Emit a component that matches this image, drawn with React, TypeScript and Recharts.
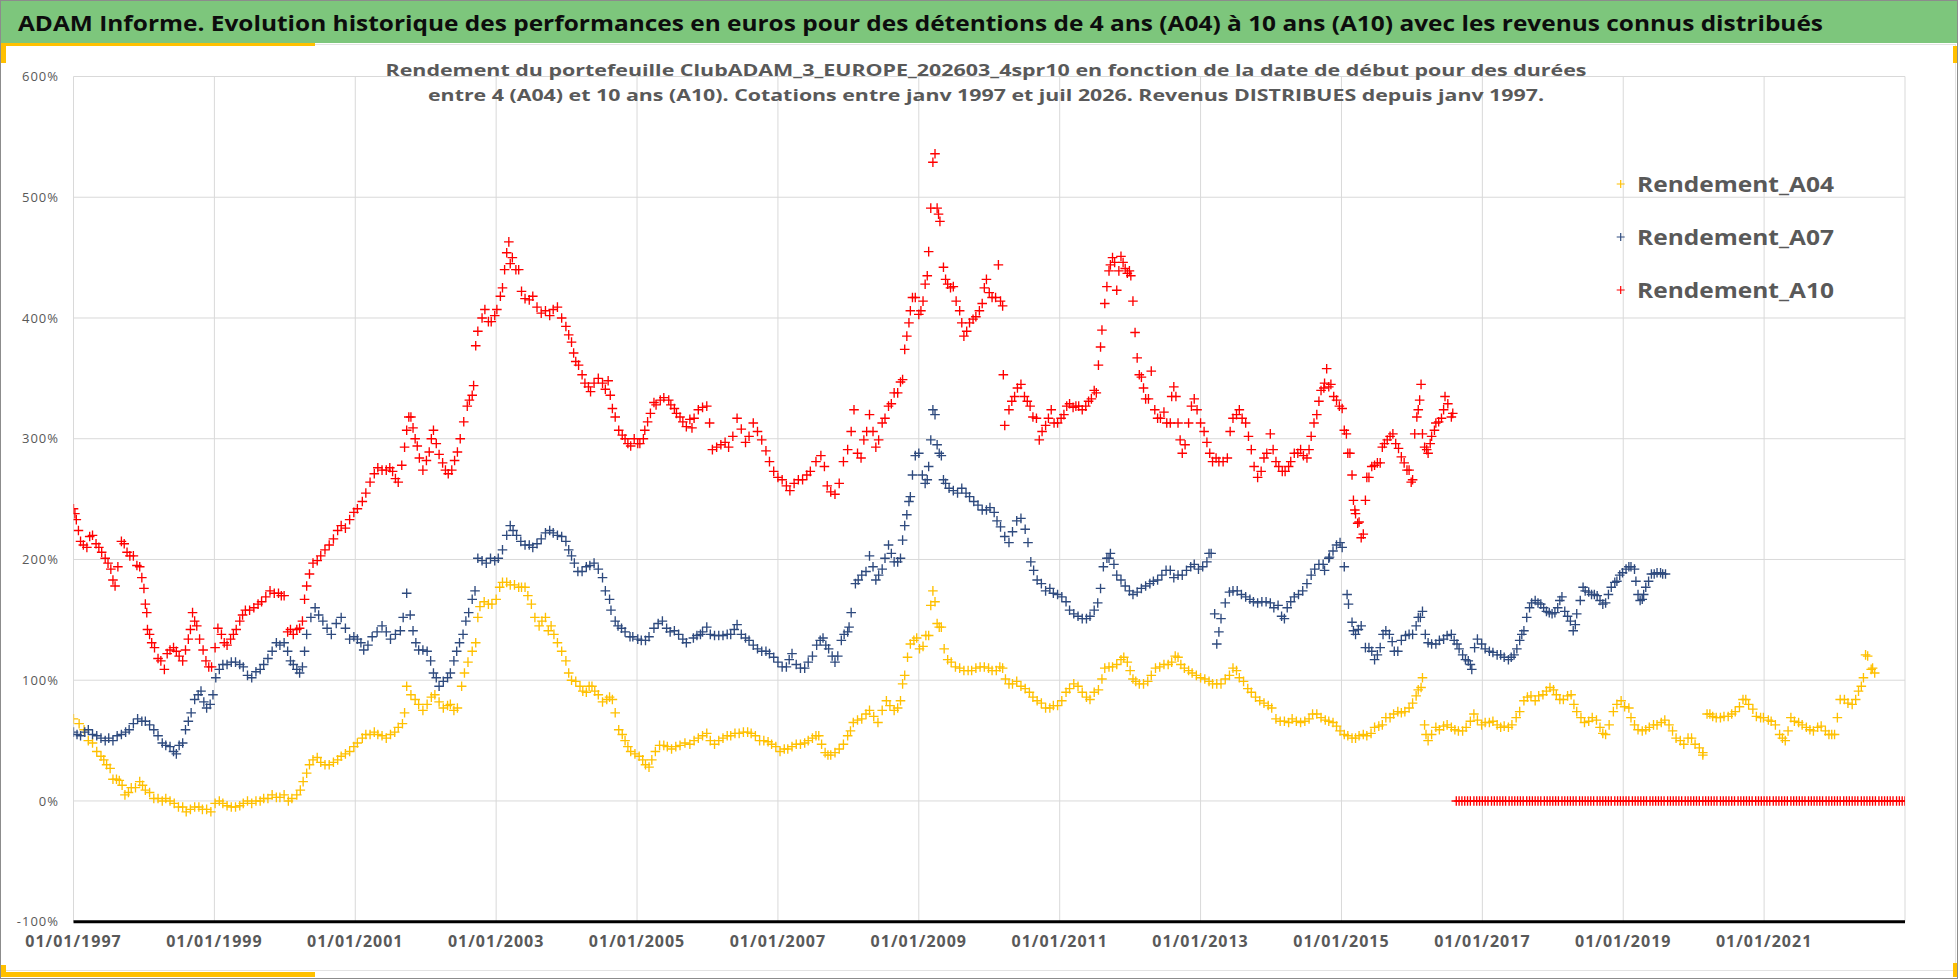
import React from 'react';
import { ScatterChart, Scatter, XAxis, YAxis, CartesianGrid } from 'recharts';

// ---- data: [decimal year of start date, rendement %] ----
const A04: [number, number][] = [
  [1997.0,68],[1997.15,59],[1997.27,48],[1997.39,37],[1997.47,30],[1997.56,18],[1997.65,17],[1997.73,5],[1997.82,11],[1997.94,16],
  [1998.02,9],[1998.14,2],[1998.26,0],[1998.37,0],[1998.49,-5],[1998.6,-9],[1998.72,-5],[1998.83,-7],[1998.95,-9],
  [1999.07,0],[1999.18,-4],[1999.3,-5],[1999.41,-2],[1999.53,-2],[1999.65,0],[1999.76,2],[1999.88,3],[1999.99,5],
  [2000.1,2],[2000.22,9],[2000.31,23],[2000.4,34],[2000.51,32],[2000.63,30],[2000.75,34],[2000.86,39],[2000.98,45],
  [2001.1,52],[2001.21,55],[2001.32,55],[2001.44,52],[2001.56,57],[2001.67,64],[2001.73,95],[2001.85,84],[2001.96,75],
  [2002.08,86],[2002.19,82],[2002.31,79],[2002.4,75],[2002.51,95],[2002.6,115],[2002.71,131],[2002.77,161],[2002.89,163],
  [2003.0,167],[2003.09,181],[2003.2,179],[2003.32,177],[2003.41,177],[2003.5,163],[2003.61,145],[2003.7,152],[2003.78,145],[2003.87,131],[2003.99,116],
  [2004.07,100],[2004.19,95],[2004.28,90],[2004.36,95],[2004.45,88],[2004.57,84],[2004.65,84],[2004.74,59],[2004.83,50],[2004.91,41],
  [2005.03,37],[2005.12,30],[2005.17,28],[2005.26,41],[2005.38,46],[2005.49,43],[2005.61,46],[2005.75,47],[2005.87,52],[2005.99,56],
  [2006.1,47],[2006.22,52],[2006.33,54],[2006.45,56],[2006.57,57],[2006.68,54],[2006.8,50],[2006.91,47],
  [2007.03,41],[2007.14,43],[2007.26,47],[2007.38,48],[2007.49,52],[2007.58,54],[2007.67,40],[2007.75,38],[2007.87,43],[2007.99,54],
  [2008.07,65],[2008.19,68],[2008.3,75],[2008.42,65],[2008.54,83],[2008.65,75],[2008.74,83],[2008.8,104],[2008.88,130],[2008.97,135],
  [2009.06,128],[2009.14,137],[2009.2,174],[2009.26,147],[2009.32,144],[2009.41,117],[2009.52,111],[2009.64,108],[2009.75,108],[2009.87,111],[2009.99,110],
  [2010.1,108],[2010.19,110],[2010.28,97],[2010.39,99],[2010.51,93],[2010.62,86],[2010.74,81],[2010.86,77],[2010.97,79],
  [2011.09,90],[2011.2,97],[2011.32,90],[2011.43,84],[2011.55,92],[2011.64,110],[2011.75,111],[2011.87,117],[2011.96,115],
  [2012.04,101],[2012.13,97],[2012.25,99],[2012.36,110],[2012.48,113],[2012.59,115],[2012.68,119],[2012.77,110],[2012.88,106],
  [2013.0,102],[2013.12,99],[2013.23,97],[2013.35,101],[2013.46,110],[2013.55,102],[2013.67,93],[2013.78,86],[2013.9,81],
  [2014.01,77],[2014.13,66],[2014.25,65],[2014.36,66],[2014.48,66],[2014.59,72],[2014.71,69],[2014.82,66],[2014.93,62],
  [2015.04,55],[2015.15,52],[2015.25,54],[2015.36,54],[2015.47,61],[2015.58,63],[2015.69,69],[2015.8,74],[2015.9,74],
  [2016.01,81],[2016.09,92],[2016.15,102],[2016.18,63],[2016.23,50],[2016.34,61],[2016.45,62],[2016.56,61],[2016.66,58],[2016.77,61],[2016.88,72],[2016.99,63],
  [2017.1,65],[2017.21,63],[2017.31,62],[2017.42,63],[2017.53,74],[2017.64,86],[2017.75,83],[2017.86,88],[2017.96,94],
  [2018.05,88],[2018.15,84],[2018.26,88],[2018.34,74],[2018.45,65],[2018.56,69],[2018.67,61],[2018.75,55],[2018.86,74],[2018.97,83],
  [2019.08,77],[2019.16,63],[2019.27,58],[2019.37,61],[2019.48,63],[2019.59,67],[2019.7,58],[2019.81,50],[2019.92,52],
  [2020.02,47],[2020.13,40],[2020.19,72],[2020.27,70],[2020.38,69],[2020.49,70],[2020.59,74],[2020.7,84],[2020.78,80],[2020.89,70],[2020.99,69],
  [2021.1,66],[2021.22,55],[2021.3,50],[2021.38,69],[2021.49,65],[2021.6,61],[2021.7,58],[2021.81,62],[2021.92,55],
  [2022.0,55],[2022.08,84],[2022.19,81],[2022.3,84],[2022.38,95],[2022.44,121],[2022.52,109],[2022.57,106],
];
const A04_MORE: [number, number][] = [
  [1997.08,64],[1997.21,50],[1997.33,41],[1997.43,34],[1997.52,27],[1997.61,18],[1997.69,13],[1997.78,7],[1997.88,11],[1997.98,13],
  [1998.08,7],[1998.2,2],[1998.31,2],[1998.43,-2],[1998.55,-5],[1998.66,-7],[1998.78,-5],[1998.89,-7],[1999.01,-2],[1999.12,-2],
  [1999.24,-5],[1999.36,-4],[1999.47,0],[1999.59,0],[1999.7,2],[1999.82,5],[1999.93,3],[2000.05,0],[2000.17,5],[2000.26,16],
  [2000.35,30],[2000.46,36],[2000.57,30],[2000.69,32],[2000.8,37],[2000.92,41],[2001.03,48],[2001.15,55],[2001.27,57],[2001.38,54],
  [2001.5,55],[2001.61,61],[2001.7,73],[2001.79,88],[2001.9,80],[2002.02,80],[2002.13,88],[2002.25,77],[2002.35,80],[2002.45,77],
  [2002.55,106],[2002.66,124],[2002.74,152],[2002.83,165],[2002.94,163],[2003.05,177],[2003.15,181],[2003.26,179],[2003.36,177],[2003.45,170],
  [2003.55,152],[2003.65,149],[2003.74,141],[2003.82,138],[2003.93,124],[2004.03,106],[2004.13,99],[2004.23,91],[2004.32,95],[2004.4,91],
  [2004.51,82],[2004.61,86],[2004.69,73],[2004.79,55],[2004.87,45],[2004.97,39],[2005.08,34],[2005.21,34],[2005.32,46],[2005.43,45],
  [2005.55,45],[2005.68,48],[2005.81,50],[2005.93,54],[2006.04,50],[2006.16,50],[2006.28,54],[2006.39,56],[2006.51,57],[2006.62,56],
  [2006.74,50],[2006.86,49],[2006.97,45],[2007.09,43],[2007.2,45],[2007.32,47],[2007.43,50],[2007.54,54],[2007.62,47],[2007.71,38],
  [2007.81,40],[2007.93,47],[2008.03,58],[2008.13,67],[2008.25,72],[2008.36,70],[2008.48,75],[2008.59,79],[2008.7,77],[2008.77,97],
  [2008.84,119],[2008.93,133],[2009.01,126],[2009.1,137],[2009.17,162],[2009.23,165],[2009.29,144],[2009.36,126],[2009.46,115],[2009.58,110],
  [2009.7,108],[2009.81,110],[2009.93,111],[2010.04,108],[2010.15,111],[2010.23,101],[2010.33,97],[2010.45,95],[2010.57,90],[2010.68,83],
  [2010.8,77],[2010.91,79],[2011.03,83],[2011.14,93],[2011.26,95],[2011.38,86],[2011.49,90],[2011.6,101],[2011.7,111],[2011.81,113],
  [2011.91,119],[2012.0,108],[2012.08,99],[2012.19,97],[2012.3,104],[2012.42,111],[2012.54,113],[2012.64,120],[2012.72,113],[2012.83,108],
  [2012.94,104],[2013.06,101],[2013.17,97],[2013.29,97],[2013.41,104],[2013.51,108],[2013.61,99],[2013.72,90],[2013.84,83],[2013.96,79],
  [2014.07,68],[2014.19,66],[2014.3,68],[2014.42,65],[2014.54,68],[2014.65,72],[2014.77,67],[2014.88,65],[2014.98,58],[2015.09,54],
  [2015.2,52],[2015.31,55],[2015.42,56],[2015.53,62],[2015.63,69],[2015.74,72],[2015.85,73],[2015.96,77],[2016.06,87],[2016.13,94],
  [2016.2,55],[2016.28,55],[2016.39,59],[2016.5,63],[2016.61,59],[2016.72,58],[2016.83,66],[2016.93,67],[2017.04,65],[2017.15,66],
  [2017.26,61],[2017.37,61],[2017.48,69],[2017.59,83],[2017.69,87],[2017.8,87],[2017.91,91],[2018.01,92],[2018.1,84],[2018.21,87],
  [2018.3,80],[2018.4,69],[2018.51,66],[2018.62,67],[2018.71,56],[2018.8,63],[2018.91,80],[2019.02,78],[2019.11,69],[2019.21,59],
  [2019.32,59],[2019.43,63],[2019.54,65],[2019.65,63],[2019.75,52],[2019.86,47],[2019.97,52],[2020.08,44],[2020.13,38],[2020.23,72],
  [2020.32,69],[2020.43,70],[2020.54,72],[2020.65,78],[2020.74,84],[2020.84,76],[2020.95,69],[2021.06,67],[2021.16,63],[2021.26,52],
  [2021.34,58],[2021.43,66],[2021.54,63],[2021.65,59],[2021.76,61],[2021.87,58],[2021.96,55],[2022.04,69],[2022.14,84],[2022.25,80],
  [2022.34,91],[2022.41,102],[2022.47,120],[2022.54,110],
];

const A07: [number, number][] = [
  [1997.0,57],[1997.1,54],[1997.21,59],[1997.33,54],[1997.45,50],[1997.56,50],[1997.68,55],[1997.79,59],[1997.91,68],
  [1998.02,66],[1998.14,59],[1998.26,48],[1998.37,45],[1998.46,39],[1998.55,48],[1998.63,66],[1998.72,84],[1998.81,91],[1998.89,77],[1998.98,88],
  [1999.07,109],[1999.18,113],[1999.3,115],[1999.41,111],[1999.53,102],[1999.65,109],[1999.76,118],[1999.88,131],[1999.99,131],
  [2000.08,116],[2000.17,109],[2000.25,111],[2000.31,138],[2000.43,160],[2000.54,149],[2000.66,138],[2000.8,152],[2000.92,134],
  [2001.03,134],[2001.12,125],[2001.24,136],[2001.38,145],[2001.5,134],[2001.64,141],[2001.73,172],[2001.82,141],[2001.9,125],
  [2002.02,124],[2002.11,106],[2002.19,95],[2002.31,102],[2002.4,116],[2002.48,131],[2002.57,149],[2002.66,167],[2002.74,201],[2002.86,197],[2002.98,199],
  [2003.09,208],[2003.2,228],[2003.29,220],[2003.41,212],[2003.52,210],[2003.64,217],[2003.76,224],[2003.87,220],[2003.99,215],
  [2004.07,203],[2004.16,190],[2004.28,194],[2004.39,197],[2004.51,185],[2004.61,167],[2004.69,149],[2004.78,143],[2004.9,136],
  [2005.01,134],[2005.12,133],[2005.24,143],[2005.36,149],[2005.47,140],[2005.59,138],[2005.7,131],[2005.8,135],[2005.9,138],[2005.99,144],
  [2006.1,137],[2006.22,137],[2006.33,138],[2006.42,146],[2006.54,135],[2006.65,129],[2006.77,124],[2006.88,122],
  [2007.0,115],[2007.12,111],[2007.2,122],[2007.32,110],[2007.43,115],[2007.55,129],[2007.64,135],[2007.72,126],[2007.81,115],[2007.9,133],[2007.99,140],
  [2008.04,156],[2008.1,180],[2008.19,187],[2008.3,203],[2008.39,183],[2008.48,192],[2008.57,212],[2008.65,198],[2008.74,201],[2008.8,228],[2008.86,248],[2008.91,270],
  [2009.0,288],[2009.09,263],[2009.14,277],[2009.2,324],[2009.26,295],[2009.32,286],[2009.38,263],[2009.49,257],[2009.61,259],[2009.72,252],[2009.84,245],[2009.96,241],
  [2010.07,239],[2010.16,227],[2010.28,214],[2010.39,232],[2010.51,225],[2010.59,198],[2010.68,183],[2010.8,174],[2010.91,172],
  [2011.03,169],[2011.14,158],[2011.26,153],[2011.38,151],[2011.49,158],[2011.58,176],[2011.67,201],[2011.72,205],[2011.81,187],[2011.93,178],
  [2012.04,171],[2012.16,176],[2012.28,180],[2012.39,183],[2012.51,191],[2012.62,185],[2012.74,187],[2012.86,194],[2012.97,192],
  [2013.09,198],[2013.15,205],[2013.2,155],[2013.23,130],[2013.29,151],[2013.41,173],[2013.52,174],[2013.64,169],[2013.75,165],[2013.87,165],[2013.99,164],
  [2014.1,162],[2014.19,151],[2014.28,165],[2014.39,171],[2014.51,180],[2014.62,192],[2014.74,196],[2014.82,201],[2014.88,207],[2014.98,214],
  [2015.04,194],[2015.08,171],[2015.1,163],[2015.15,148],[2015.2,138],[2015.28,145],[2015.39,127],[2015.47,117],[2015.55,127],[2015.63,141],[2015.72,132],[2015.8,124],[2015.91,137],
  [2016.01,138],[2016.09,152],[2016.15,157],[2016.23,131],[2016.34,130],[2016.45,134],[2016.56,138],[2016.64,130],[2016.72,121],[2016.8,116],[2016.85,109],[2016.93,134],
  [2017.04,126],[2017.15,123],[2017.26,121],[2017.37,117],[2017.45,121],[2017.53,133],[2017.59,141],[2017.67,160],[2017.75,166],[2017.83,163],[2017.91,157],[2017.99,155],
  [2018.07,160],[2018.13,169],[2018.21,153],[2018.29,141],[2018.34,155],[2018.43,177],[2018.51,173],[2018.59,171],[2018.67,166],[2018.75,164],[2018.83,177],[2018.91,182],[2018.99,189],
  [2019.08,194],[2019.16,192],[2019.21,171],[2019.27,167],[2019.32,177],[2019.4,188],[2019.48,189],[2019.56,188],
];
const A07_MORE: [number, number][] = [
  [1997.05,55],[1997.16,57],[1997.27,55],[1997.39,52],[1997.5,52],[1997.62,54],[1997.74,57],[1997.85,64],[1997.97,66],[1998.08,63],
  [1998.2,54],[1998.31,46],[1998.42,41],[1998.5,46],[1998.59,59],[1998.67,73],[1998.77,88],[1998.85,82],[1998.94,80],[1999.02,102],
  [1999.12,113],[1999.24,115],[1999.36,113],[1999.47,104],[1999.59,107],[1999.7,113],[1999.82,124],[1999.93,129],[2000.04,124],[2000.12,113],
  [2000.21,106],[2000.28,124],[2000.37,152],[2000.48,154],[2000.6,143],[2000.73,147],[2000.86,143],[2000.98,136],[2001.08,131],[2001.18,129],
  [2001.31,140],[2001.44,140],[2001.57,138],[2001.68,152],[2001.78,154],[2001.86,131],[2001.96,125],[2002.07,116],[2002.15,102],[2002.25,99],
  [2002.35,106],[2002.44,124],[2002.53,138],[2002.61,156],[2002.7,174],[2002.8,199],[2002.92,201],[2003.03,201],[2003.15,220],[2003.24,224],
  [2003.35,215],[2003.47,212],[2003.58,213],[2003.7,222],[2003.81,222],[2003.93,219],[2004.03,208],[2004.11,197],[2004.22,190],[2004.33,195],
  [2004.45,192],[2004.55,174],[2004.63,158],[2004.73,145],[2004.83,140],[2004.94,136],[2005.06,133],[2005.17,136],[2005.3,147],[2005.42,143],
  [2005.53,141],[2005.65,134],[2005.85,137],[2005.93,140],[2006.04,138],[2006.16,137],[2006.28,138],[2006.38,142],[2006.48,138],[2006.59,133],
  [2006.71,126],[2006.83,124],[2006.94,119],[2007.06,111],[2007.16,117],[2007.26,113],[2007.38,110],[2007.49,120],[2007.6,133],[2007.68,129],
  [2007.77,120],[2007.85,120],[2007.94,138],[2008.01,144],[2008.14,183],[2008.25,190],[2008.35,194],[2008.43,187],[2008.52,201],[2008.61,205],
  [2008.7,198],[2008.77,216],[2008.83,237],[2008.88,252],[2008.95,286],[2009.05,270],[2009.12,266],[2009.17,299],[2009.23,320],[2009.29,288],
  [2009.35,266],[2009.43,259],[2009.55,255],[2009.67,255],[2009.78,248],[2009.9,241],[2010.01,243],[2010.11,232],[2010.22,219],[2010.33,223],
  [2010.45,234],[2010.55,214],[2010.63,191],[2010.74,180],[2010.86,176],[2010.97,171],[2011.09,165],[2011.2,155],[2011.32,151],[2011.43,153],
  [2011.54,164],[2011.62,194],[2011.7,201],[2011.77,196],[2011.87,183],[2011.99,174],[2012.1,173],[2012.22,178],[2012.33,182],[2012.45,187],
  [2012.57,191],[2012.68,187],[2012.8,191],[2012.91,196],[2013.03,194],[2013.12,205],[2013.26,140],[2013.35,164],[2013.46,174],[2013.58,171],
  [2013.7,167],[2013.81,164],[2013.93,165],[2014.04,160],[2014.15,153],[2014.23,160],[2014.33,169],[2014.45,174],[2014.57,187],[2014.68,196],
  [2014.76,191],[2014.83,202],[2014.93,212],[2015.01,210],[2015.17,141],[2015.24,142],[2015.34,127],[2015.43,124],[2015.51,121],[2015.59,138],
  [2015.68,138],[2015.75,124],[2015.85,133],[2015.96,138],[2016.06,145],[2016.12,152],[2016.19,138],[2016.28,130],[2016.39,133],[2016.5,137],
  [2016.6,133],[2016.67,126],[2016.76,117],[2016.83,113],[2016.89,127],[2016.99,130],[2017.1,124],[2017.21,121],[2017.31,119],[2017.41,119],
  [2017.49,126],[2017.56,138],[2017.63,152],[2017.7,164],[2017.79,164],[2017.87,160],[2017.95,156],[2018.03,156],[2018.1,166],[2018.17,157],
  [2018.25,149],[2018.32,146],[2018.39,166],[2018.46,174],[2018.55,171],[2018.63,170],[2018.71,163],[2018.79,171],[2018.88,181],[2018.95,187],
  [2019.04,192],[2019.11,194],[2019.18,182],[2019.24,166],[2019.29,171],[2019.36,182],[2019.44,188],[2019.53,189],[2019.6,188],
];

const A10: [number, number][] = [
  [1997.0,242],[1997.04,233],[1997.1,215],[1997.19,210],[1997.27,220],[1997.36,210],[1997.45,201],[1997.53,192],[1997.59,178],[1997.68,215],[1997.76,206],[1997.85,203],[1997.94,194],
  [1998.0,176],[1998.02,163],[1998.05,142],[1998.11,131],[1998.2,118],[1998.29,109],[1998.37,125],[1998.46,124],[1998.55,116],[1998.63,134],[1998.69,156],[1998.75,145],[1998.84,125],[1998.92,111],
  [1999.01,127],[1999.1,138],[1999.18,129],[1999.27,138],[1999.36,149],[1999.44,158],[1999.56,160],[1999.67,165],[1999.79,174],[1999.91,172],[1999.99,170],
  [2000.08,142],[2000.17,142],[2000.25,149],[2000.31,178],[2000.4,197],[2000.51,203],[2000.63,212],[2000.75,224],[2000.86,226],[2000.98,239],
  [2001.1,248],[2001.21,264],[2001.32,276],[2001.44,274],[2001.53,273],[2001.61,264],[2001.7,293],[2001.76,318],[2001.82,309],[2001.88,294],[2001.96,274],
  [2002.05,289],[2002.11,307],[2002.19,287],[2002.28,274],[2002.37,274],[2002.45,289],[2002.54,314],[2002.62,332],[2002.68,344],[2002.71,377],[2002.8,400],[2002.89,397],[2002.98,402],
  [2003.06,418],[2003.12,440],[2003.18,463],[2003.23,450],[2003.32,440],[2003.41,416],[2003.52,418],[2003.64,404],[2003.76,402],[2003.87,409],[2003.99,393],
  [2004.07,380],[2004.13,364],[2004.22,353],[2004.31,343],[2004.39,346],[2004.51,346],[2004.59,348],[2004.65,325],[2004.74,307],[2004.83,300],[2004.91,294],
  [2005.01,296],[2005.09,300],[2005.15,314],[2005.24,330],[2005.33,332],[2005.45,332],[2005.53,325],[2005.61,318],[2005.7,310],[2005.78,309],[2005.87,324],[2005.99,327],
  [2006.07,291],[2006.19,295],[2006.3,293],[2006.42,317],[2006.54,297],[2006.65,313],[2006.77,299],[2006.88,281],
  [2007.0,268],[2007.12,261],[2007.23,263],[2007.35,266],[2007.46,273],[2007.61,286],[2007.7,261],[2007.81,254],[2007.93,281],
  [2008.04,306],[2008.13,288],[2008.22,299],[2008.3,320],[2008.39,293],[2008.48,313],[2008.57,327],[2008.65,338],[2008.74,347],[2008.8,374],[2008.86,396],[2008.91,417],
  [2009.0,403],[2009.06,414],[2009.12,435],[2009.14,455],[2009.17,491],[2009.2,529],[2009.23,536],[2009.26,491],[2009.3,480],[2009.35,442],[2009.41,428],[2009.49,426],[2009.58,406],[2009.64,385],[2009.72,396],[2009.81,401],[2009.9,412],[2009.96,432],
  [2010.04,417],[2010.13,444],[2010.19,410],[2010.2,353],[2010.22,311],[2010.28,324],[2010.36,335],[2010.45,345],[2010.54,331],[2010.62,318],[2010.71,299],[2010.8,311],[2010.88,324],[2010.97,313],
  [2011.06,320],[2011.14,329],[2011.23,327],[2011.32,324],[2011.41,331],[2011.49,340],[2011.55,361],[2011.6,390],[2011.64,412],[2011.7,439],[2011.75,450],[2011.81,423],[2011.87,451],[2011.93,441],[2011.99,439],
  [2012.04,414],[2012.07,388],[2012.1,367],[2012.16,351],[2012.22,333],[2012.3,356],[2012.39,317],[2012.48,322],[2012.57,313],[2012.62,343],[2012.68,313],[2012.74,288],[2012.83,313],[2012.91,333],
  [2013.0,313],[2013.09,297],[2013.17,281],[2013.26,281],[2013.38,284],[2013.46,317],[2013.55,324],[2013.64,313],[2013.72,291],[2013.81,268],[2013.9,284],[2013.99,304],
  [2014.07,281],[2014.16,273],[2014.25,277],[2014.33,288],[2014.42,291],[2014.51,284],[2014.57,302],[2014.65,320],[2014.71,340],[2014.79,358],[2014.85,345],[2014.93,332],
  [2015.01,325],[2015.07,304],[2015.09,288],[2015.15,270],[2015.17,249],[2015.2,238],[2015.23,230],[2015.28,218],[2015.34,249],[2015.39,268],[2015.47,278],[2015.55,280],[2015.61,296],[2015.69,302],[2015.77,296],[2015.85,285],[2015.93,274],[2015.99,264],
  [2016.04,304],[2016.09,324],[2016.13,345],[2016.18,293],[2016.23,288],[2016.28,302],[2016.34,313],[2016.42,317],[2016.47,335],[2016.56,318],
];
const A10_MORE: [number, number][] = [
  [1997.02,238],[1997.07,224],[1997.14,212],[1997.23,219],[1997.32,213],[1997.4,206],[1997.49,197],[1997.56,183],[1997.63,194],[1997.72,213],
  [1997.8,203],[1997.9,195],[1997.97,185],[1998.04,156],[1998.08,138],[1998.15,127],[1998.24,116],[1998.33,122],[1998.42,127],[1998.5,120],
  [1998.59,125],[1998.66,142],[1998.72,149],[1998.79,134],[1998.88,116],[1998.96,111],[1999.05,143],[1999.14,131],[1999.23,134],[1999.31,142],
  [1999.4,154],[1999.5,158],[1999.62,163],[1999.73,169],[1999.85,172],[1999.95,170],[2000.04,140],[2000.12,138],[2000.21,143],[2000.28,167],
  [2000.35,188],[2000.46,199],[2000.57,208],[2000.69,217],[2000.8,228],[2000.92,233],[2001.03,242],[2001.15,255],[2001.27,271],[2001.38,274],
  [2001.49,276],[2001.57,267],[2001.66,278],[2001.73,307],[2001.79,318],[2001.85,300],[2001.91,284],[2002.01,282],[2002.08,300],[2002.15,296],
  [2002.24,280],[2002.32,271],[2002.41,282],[2002.49,300],[2002.59,327],[2002.66,336],[2002.74,389],[2002.84,407],[2002.93,397],[2003.01,407],
  [2003.09,425],[2003.15,454],[2003.2,445],[2003.28,440],[2003.36,422],[2003.47,415],[2003.58,409],[2003.7,406],[2003.81,407],[2003.93,400],
  [2004.03,386],[2004.1,371],[2004.17,361],[2004.26,346],[2004.34,339],[2004.45,350],[2004.55,341],[2004.62,336],[2004.69,318],[2004.79,303],
  [2004.87,296],[2004.96,300],[2005.04,296],[2005.11,307],[2005.19,321],[2005.27,328],[2005.38,334],[2005.48,328],[2005.56,321],[2005.65,314],
  [2005.75,316],[2005.81,317],[2005.93,326],[2006.03,313],[2006.13,293],[2006.25,297],[2006.36,302],[2006.48,308],[2006.59,302],[2006.71,306],
  [2006.83,290],[2006.94,273],[2007.06,266],[2007.17,257],[2007.29,266],[2007.41,270],[2007.54,281],[2007.66,277],[2007.75,256],[2007.87,263],
  [2007.99,291],[2008.08,324],[2008.18,284],[2008.26,306],[2008.35,306],[2008.43,299],[2008.52,317],[2008.61,329],[2008.7,338],[2008.77,349],
  [2008.83,385],[2008.88,406],[2008.95,417],[2009.03,406],[2009.09,428],[2009.28,486],[2009.38,432],[2009.45,425],[2009.53,414],[2009.61,396],
  [2009.68,389],[2009.77,399],[2009.86,406],[2009.93,425],[2010.0,421],[2010.09,417],[2010.16,414],[2010.32,331],[2010.4,342],[2010.5,335],
  [2010.58,327],[2010.67,317],[2010.75,306],[2010.84,317],[2010.92,313],[2011.02,317],[2011.1,327],[2011.19,326],[2011.27,327],[2011.37,327],
  [2011.45,333],[2011.52,338],[2011.58,376],[2011.67,426],[2011.72,444],[2011.78,446],[2011.84,439],[2011.9,446],[2011.96,437],[2012.01,435],
  [2012.13,353],[2012.19,342],[2012.26,333],[2012.35,324],[2012.43,317],[2012.52,313],[2012.59,335],[2012.65,335],[2012.71,299],[2012.78,295],
  [2012.87,327],[2012.95,324],[2013.05,306],[2013.13,288],[2013.22,284],[2013.32,281],[2013.42,306],[2013.51,320],[2013.59,317],[2013.68,302],
  [2013.76,277],[2013.86,273],[2013.94,288],[2014.03,291],[2014.11,277],[2014.2,273],[2014.28,281],[2014.38,288],[2014.46,286],[2014.54,291],
  [2014.61,313],[2014.68,331],[2014.75,342],[2014.76,346],[2014.82,343],[2014.89,335],[2014.97,327],[2015.04,307],[2015.12,288],[2015.19,241],
  [2015.25,231],[2015.31,221],[2015.36,268],[2015.43,277],[2015.51,280],[2015.58,293],[2015.65,299],[2015.73,304],[2015.81,292],[2015.89,280],
  [2015.96,274],[2016.01,266],[2016.07,318],[2016.11,332],[2016.15,304],[2016.21,291],[2016.26,296],[2016.32,307],[2016.38,314],[2016.45,324],
  [2016.51,329],[2016.58,321],
];
// A10 has no value yet for start dates after mid-2016: reported as 0 %
const A10_ZERO: [number, number][] = [
  [2016.63,0],[2016.67,0],[2016.71,0],[2016.75,0],[2016.79,0],[2016.83,0],[2016.88,0],[2016.92,0],[2016.96,0],
  [2017.0,0],[2017.04,0],[2017.08,0],[2017.13,0],[2017.17,0],[2017.21,0],[2017.25,0],[2017.29,0],[2017.33,0],[2017.38,0],[2017.42,0],[2017.46,0],[2017.5,0],[2017.54,0],[2017.58,0],[2017.63,0],[2017.67,0],[2017.71,0],[2017.75,0],[2017.79,0],[2017.83,0],[2017.88,0],[2017.92,0],[2017.96,0],
  [2018.0,0],[2018.04,0],[2018.08,0],[2018.13,0],[2018.17,0],[2018.21,0],[2018.25,0],[2018.29,0],[2018.33,0],[2018.38,0],[2018.42,0],[2018.46,0],[2018.5,0],[2018.54,0],[2018.58,0],[2018.63,0],[2018.67,0],[2018.71,0],[2018.75,0],[2018.79,0],[2018.83,0],[2018.88,0],[2018.92,0],[2018.96,0],
  [2019.0,0],[2019.04,0],[2019.08,0],[2019.13,0],[2019.17,0],[2019.21,0],[2019.25,0],[2019.29,0],[2019.33,0],[2019.38,0],[2019.42,0],[2019.46,0],[2019.5,0],[2019.54,0],[2019.58,0],[2019.63,0],[2019.67,0],[2019.71,0],[2019.75,0],[2019.79,0],[2019.83,0],[2019.88,0],[2019.92,0],[2019.96,0],
  [2020.0,0],[2020.04,0],[2020.08,0],[2020.13,0],[2020.17,0],[2020.21,0],[2020.25,0],[2020.29,0],[2020.33,0],[2020.38,0],[2020.42,0],[2020.46,0],[2020.5,0],[2020.54,0],[2020.58,0],[2020.63,0],[2020.67,0],[2020.71,0],[2020.75,0],[2020.79,0],[2020.83,0],[2020.88,0],[2020.92,0],[2020.96,0],
  [2021.0,0],[2021.04,0],[2021.08,0],[2021.13,0],[2021.17,0],[2021.21,0],[2021.25,0],[2021.29,0],[2021.33,0],[2021.38,0],[2021.42,0],[2021.46,0],[2021.5,0],[2021.54,0],[2021.58,0],[2021.63,0],[2021.67,0],[2021.71,0],[2021.75,0],[2021.79,0],[2021.83,0],[2021.88,0],[2021.92,0],[2021.96,0],
  [2022.0,0],[2022.04,0],[2022.08,0],[2022.13,0],[2022.17,0],[2022.21,0],[2022.25,0],[2022.29,0],[2022.33,0],[2022.38,0],[2022.42,0],[2022.46,0],[2022.5,0],[2022.54,0],[2022.58,0],[2022.63,0],[2022.67,0],[2022.71,0],[2022.75,0],[2022.79,0],[2022.83,0],[2022.88,0],[2022.92,0],[2022.96,0],
  [2023.0,0],
];

const X_TICKS = [1997, 1999, 2001, 2003, 2005, 2007, 2009, 2011, 2013, 2015, 2017, 2019, 2021];
const Y_TICKS = [-100, 0, 100, 200, 300, 400, 500, 600];
const SERIES_NAMES = ['Rendement_A04', 'Rendement_A07', 'Rendement_A10'];
const SERIES_COLORS = ['#FFC000', '#2E4A7E', '#FF0000'];

const TITLE = 'ADAM Informe. Evolution historique des performances en euros pour des détentions de 4 ans (A04) à 10 ans (A10) avec les revenus connus distribués';
const SUB1 = 'Rendement du portefeuille ClubADAM_3_EUROPE_202603_4spr10  en fonction de la date de début pour des durées';
const SUB2 = 'entre 4 (A04) et 10 ans (A10). Cotations entre janv 1997 et juil 2026. Revenus DISTRIBUES depuis janv 1997.';

const toPoints = (...arrs: [number, number][][]) =>
  arrs.flat().map(([x, y]) => ({ x, y }));

const makePlus = (color: string) => (props: any) => {
  const { cx, cy } = props;
  if (cx == null || cy == null) return <g />;
  return (
    <path
      d={`M${cx - 4.8},${cy}h9.6M${cx},${cy - 4.8}v9.6`}
      stroke={color}
      strokeWidth={1.35}
      fill="none"
    />
  );
};

const FONT = "'Open Sans', 'DejaVu Sans', sans-serif";

export default function App() {
  const W = 1958;
  const H = 979;
  return (
    <div style={{ position: 'absolute', left: 0, top: 0, width: W, height: H, background: '#fff', overflow: 'hidden' }}>
      <svg width={W} height={H} style={{ position: 'absolute', left: 0, top: 0 }}>
        <rect x={0} y={0} width={W} height={H} fill="#fff" />
        <rect x={0.5} y={44.5} width={W - 3} height={926} fill="none" stroke="#e3e3e3" strokeWidth={1} />
        <rect x={0} y={0} width={W} height={43} fill="#7DC67C" />
        <rect x={0} y={43} width={315} height={3} fill="#FFC000" />
        <rect x={0} y={43} width={6} height={20} fill="#FFC000" />
        <rect x={W - 5} y={46} width={5} height={17} fill="#FFC000" />
        <rect x={0} y={972} width={315} height={5} fill="#FFC000" />
        <rect x={0} y={965} width={6} height={12} fill="#FFC000" />
        <rect x={W - 5} y={963} width={5} height={14} fill="#FFC000" />
        <rect x={0.5} y={0.5} width={W - 1} height={H - 1} fill="none" stroke="#8c8c8c" strokeWidth={1} />
      </svg>

      <div style={{ position: 'absolute', left: 0, top: 0 }}>
        <ScatterChart width={W} height={H} margin={{ top: 76.5, right: 53, bottom: 27.3, left: 13.5 }}>
          <CartesianGrid stroke="#d9d9d9" strokeWidth={1} />
          <XAxis
            type="number"
            dataKey="x"
            domain={[1997, 2023]}
            ticks={X_TICKS}
            allowDataOverflow
            interval={0}
            tickFormatter={(v: number) => `01/01/${v}`}
            axisLine={{ stroke: '#000', strokeWidth: 3 }}
            tickLine={false}
            tickMargin={8}
            tick={{ fill: '#595959', fontSize: 16, fontWeight: 700, fontFamily: FONT, letterSpacing: 1 } as any}
          />
          <YAxis
            type="number"
            dataKey="y"
            domain={[-100, 600]}
            ticks={Y_TICKS}
            allowDataOverflow
            interval={0}
            width={60}
            tickFormatter={(v: number) => `${v}%`}
            axisLine={false}
            tickLine={false}
            tickMargin={8.5}
            tick={{ fill: '#595959', fontSize: 13, fontFamily: FONT, letterSpacing: 1 } as any}
          />
          <Scatter name={SERIES_NAMES[0]} data={toPoints(A04, A04_MORE)} shape={makePlus(SERIES_COLORS[0])} isAnimationActive={false} />
          <Scatter name={SERIES_NAMES[1]} data={toPoints(A07, A07_MORE)} shape={makePlus(SERIES_COLORS[1])} isAnimationActive={false} />
          <Scatter name={SERIES_NAMES[2]} data={toPoints(A10, A10_MORE, A10_ZERO)} shape={makePlus(SERIES_COLORS[2])} isAnimationActive={false} />
        </ScatterChart>
      </div>

      <svg width={W} height={H} style={{ position: 'absolute', left: 0, top: 0, pointerEvents: 'none' }}>
        <text x={18} y={31} textLength={1805} lengthAdjust="spacingAndGlyphs" fontSize={20.5} fontWeight={700} fill="#0d0d0d" fontFamily={FONT}>
          {TITLE}
        </text>
        <text x={385.5} y={76} textLength={1201} lengthAdjust="spacingAndGlyphs" fontSize={16} fontWeight={700} fill="#595959" fontFamily={FONT}>
          {SUB1}
        </text>
        <text x={428} y={101} textLength={1116} lengthAdjust="spacingAndGlyphs" fontSize={16} fontWeight={700} fill="#595959" fontFamily={FONT}>
          {SUB2}
        </text>
        {SERIES_NAMES.map((name, i) => {
          const cy = 184 + i * 53;
          return (
            <g key={name}>
              <path d={`M${1616.7},${cy}h8M${1620.7},${cy - 4}v8`} stroke={SERIES_COLORS[i]} strokeWidth={1.2} />
              <text x={1637} y={cy + 7.5} textLength={197} lengthAdjust="spacingAndGlyphs" fontSize={21} fontWeight={700} fill="#595959" fontFamily={FONT}>
                {name}
              </text>
            </g>
          );
        })}
      </svg>
    </div>
  );
}
